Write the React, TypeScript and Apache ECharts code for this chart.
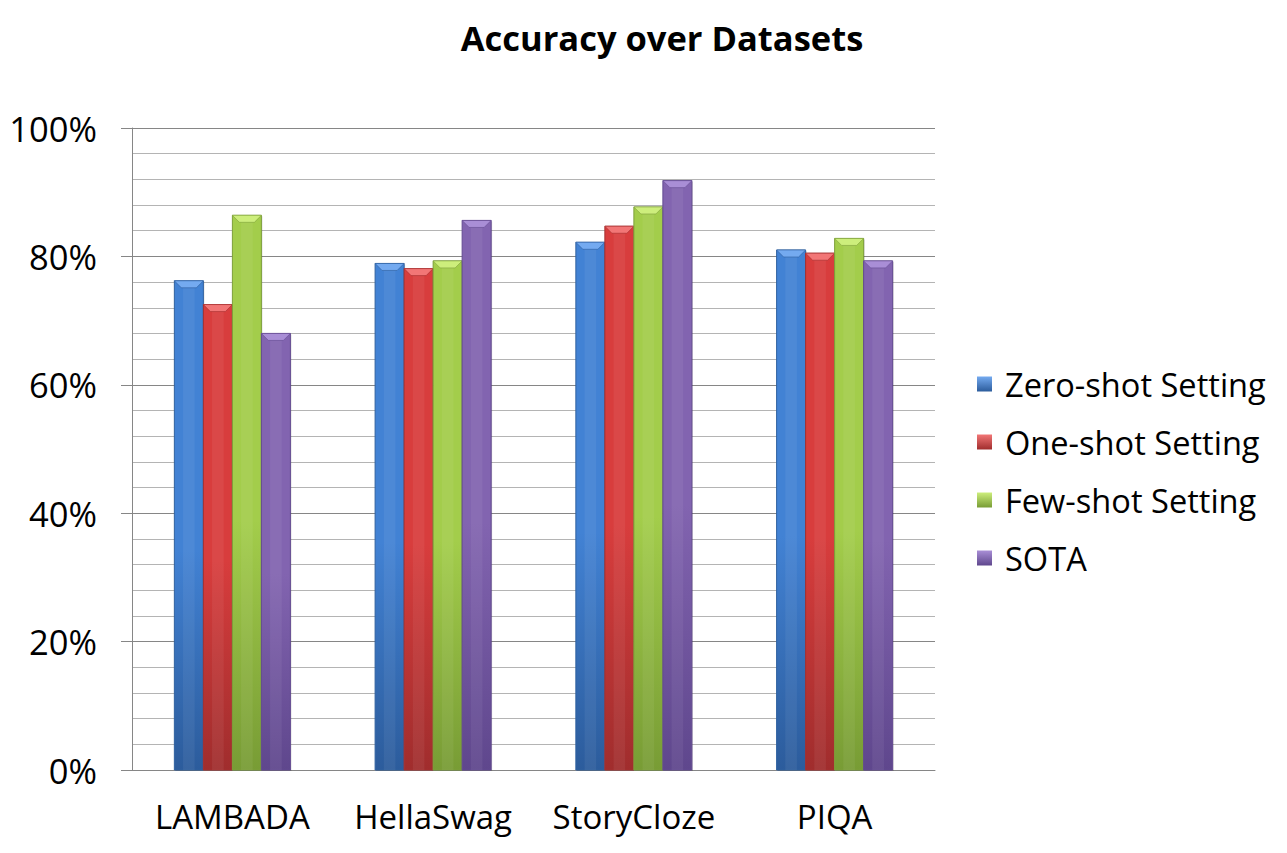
import React, { useEffect, useRef } from "react";
import * as echarts from "echarts";

const categories = ["LAMBADA", "HellaSwag", "StoryCloze", "PIQA"];
const seriesNames = ["Zero-shot Setting", "One-shot Setting", "Few-shot Setting", "SOTA"];
const zeroShot = [76.2, 78.9, 82.2, 81.0];
const oneShot = [72.5, 78.1, 84.7, 80.5];
const fewShot = [86.4, 79.3, 87.7, 82.8];
const sota = [68.0, 85.6, 91.8, 79.3];
const yTicks = [0, 20, 40, 60, 80, 100];

const palettes = [
  { base: "#4282d4", top: "#74aaf0", bottom: "#2c5c9c", edge: "#2f609f" },
  { base: "#d83d3d", top: "#f27676", bottom: "#a02d2d", edge: "#a53030" },
  { base: "#a3cd4b", top: "#cdee7c", bottom: "#789c35", edge: "#7d9f3a" },
  { base: "#8264b0", top: "#a98ed6", bottom: "#5f478d", edge: "#634a91" },
];

const FONT = "'Open Sans', 'Noto Sans', sans-serif";

export default function App() {
  const ref = useRef<HTMLDivElement>(null);
  useEffect(() => {
    const chart = echarts.init(ref.current!, null, { renderer: "svg" });
    const allValues = [zeroShot, oneShot, fewShot, sota];
    const nSeries = allValues.length;
    const barFrac = 0.1445;

    const series = allValues.map((vals, si) => {
      const p = palettes[si];
      return {
        type: "custom",
        name: seriesNames[si],
        itemStyle: {
          color: new echarts.graphic.LinearGradient(0, 0, 0, 1, [
            { offset: 0, color: p.top },
            { offset: 1, color: p.bottom },
          ]),
        },
        data: vals.map((v, i) => [i, v]),
        renderItem: (params: any, api: any) => {
          const ci = api.value(0);
          const v = api.value(1);
          const top = api.coord([ci, v]);
          const base = api.coord([ci, 0]);
          const bandW = api.size([1, 0])[0];
          const w = bandW * barFrac;
          const x0 = top[0] + (si - nSeries / 2) * w;
          const x1 = x0 + w;
          const yt = top[1];
          const yb = base[1];
          const bev = 7;
          return {
            type: "group",
            children: [
              {
                type: "rect",
                shape: { x: x0 + 1, y: yt + 1, width: w, height: yb - yt },
                style: { fill: "rgba(0,0,0,0.18)" },
              },
              {
                type: "rect",
                shape: { x: x0, y: yt, width: w, height: yb - yt },
                style: {
                  fill: new echarts.graphic.LinearGradient(0, 0, 0, 1, [
                    { offset: 0, color: p.base },
                    { offset: 0.55, color: p.base },
                    { offset: 1, color: p.bottom },
                  ]),
                  stroke: p.edge,
                  lineWidth: 1,
                },
              },
              {
                type: "rect",
                shape: { x: x0 + w * 0.3, y: yt + bev, width: w * 0.4, height: yb - yt - bev },
                style: { fill: "rgba(255,255,255,0.06)" },
              },
              {
                type: "polygon",
                shape: {
                  points: [
                    [x0, yt],
                    [x1, yt],
                    [x1 - bev, yt + bev],
                    [x0 + bev, yt + bev],
                  ],
                },
                style: { fill: p.top, stroke: p.edge, lineWidth: 0.6 },
              },
            ],
          };
        },
      };
    });

    chart.setOption({
      animation: false,
      backgroundColor: "#ffffff",
      title: {
        text: "Accuracy over Datasets",
        left: 657,
        textAlign: "center",
        top: 15,
        textStyle: { fontFamily: FONT, fontWeight: "bold", fontSize: 34.5, color: "#000" },
      },
      legend: {
        orient: "vertical",
        left: 972,
        top: 361,
        itemWidth: 15,
        itemHeight: 15,
        itemGap: 22,
        icon: "rect",
        data: seriesNames,
        textStyle: {
          fontFamily: FONT,
          fontSize: 32.6,
          color: "#000",
          lineHeight: 36,
          padding: [0, 0, 0, 8],
        },
      },
      grid: { left: 132, right: 352, top: 128, bottom: 83, containLabel: false },
      xAxis: {
        type: "category",
        data: categories,
        axisLine: { show: true, lineStyle: { color: "#868686", width: 1 } },
        axisTick: { show: false },
        axisLabel: { interval: 0, fontFamily: FONT, fontSize: 33, color: "#000", margin: 30 },
        splitLine: { show: false },
      },
      yAxis: {
        type: "value",
        min: yTicks[0],
        max: yTicks[yTicks.length - 1],
        interval: 20,
        axisLine: { show: true, lineStyle: { color: "#868686", width: 1 } },
        axisTick: { show: true, length: 11, lineStyle: { color: "#868686" } },
        axisLabel: {
          fontFamily: FONT,
          fontSize: 34.5,
          color: "#000",
          margin: 35,
          formatter: (v: number) => `${v}%`,
        },
        splitLine: { show: true, lineStyle: { color: "#868686", width: 1 } },
        minorTick: { show: false, splitNumber: 5 },
        minorSplitLine: { show: true, lineStyle: { color: "#b4b4b4", width: 1 } },
      },
      series,
    });
    return () => chart.dispose();
  }, []);
  return (
    <div
      ref={ref}
      style={{ position: "fixed", left: 0, top: 0, width: 1287, height: 853 }}
    />
  );
}
